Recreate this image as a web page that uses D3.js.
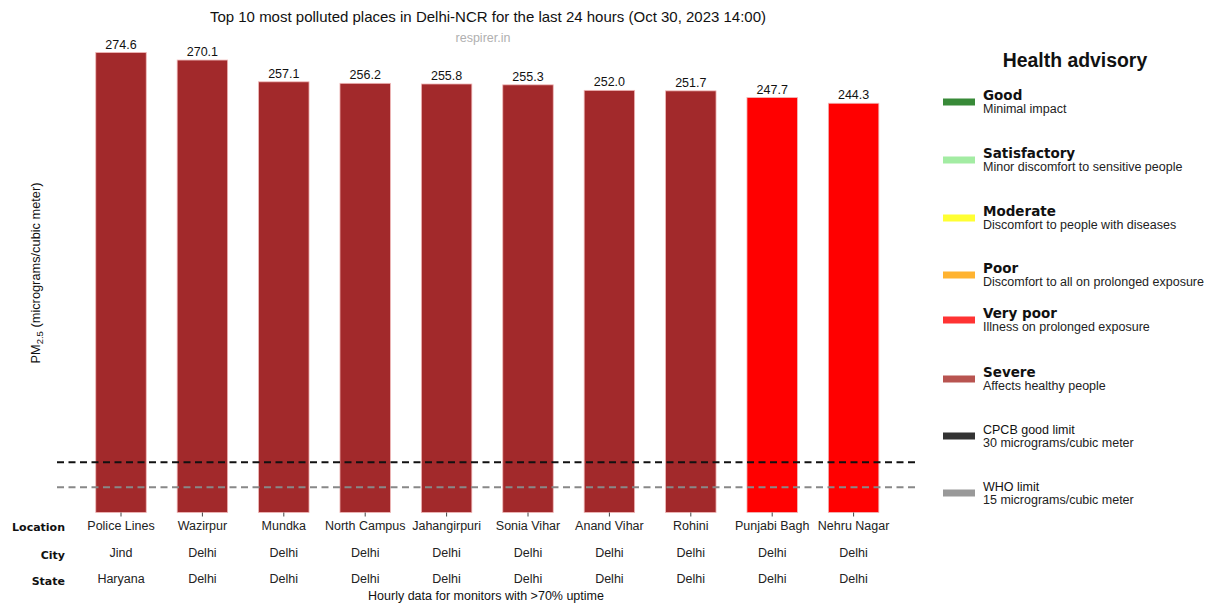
<!DOCTYPE html>
<html><head><meta charset="utf-8">
<script src="https://cdn.jsdelivr.net/npm/d3@7"></script>
<style>body{margin:0;background:#fff}svg{display:block}</style>
</head><body>
<svg id="c" width="1209" height="603"></svg>
<script>
const locations = ["Police Lines","Wazirpur","Mundka","North Campus","Jahangirpuri","Sonia Vihar","Anand Vihar","Rohini","Punjabi Bagh","Nehru Nagar"];
const cities = ["Jind","Delhi","Delhi","Delhi","Delhi","Delhi","Delhi","Delhi","Delhi","Delhi"];
const states = ["Haryana","Delhi","Delhi","Delhi","Delhi","Delhi","Delhi","Delhi","Delhi","Delhi"];
const pm25 = [274.6,270.1,257.1,256.2,255.8,255.3,252.0,251.7,247.7,244.3];
const categoryOf = ["Severe","Severe","Severe","Severe","Severe","Severe","Severe","Severe","Very poor","Very poor"];
const limits = [{name:"CPCB", value:30, color:"#111"},{name:"WHO", value:15, color:"#888"}];
const legendTitles = ["Good","Satisfactory","Moderate","Poor","Very poor","Severe","CPCB good limit","WHO limit"];
const legendDescs = ["Minimal impact","Minor discomfort to sensitive people","Discomfort to people with diseases","Discomfort to all on prolonged exposure","Illness on prolonged exposure","Affects healthy people","30 micrograms/cubic meter","15 micrograms/cubic meter"];
const legendColors = ["#388a38","#a3eca3","#ffff33","#ffb330","#ff3333","#b85450","#333333","#999999"];
const barColors = {"Severe":"#a2292b","Very poor":"#ff0000"};

const svg = d3.select("#c");
const F = "Liberation Sans, Arial, sans-serif";
const FB = "DejaVu Sans, sans-serif";

const x = d3.scaleBand().domain(locations).range([80.3, 894.3]).paddingInner(0.38).paddingOuter(0.19);
const y = d3.scaleLinear().domain([0, 274.6]).range([512.5, 52.5]);

// title
svg.append("text").attr("x",488).attr("y",22).attr("text-anchor","middle")
  .attr("font-family",F).attr("font-size",15).attr("fill","#111")
  .text("Top 10 most polluted places in Delhi-NCR for the last 24 hours (Oct 30, 2023 14:00)");
svg.append("text").attr("x",483).attr("y",42).attr("text-anchor","middle")
  .attr("font-family",F).attr("font-size",12.5).attr("fill","#b0b0b0").text("respirer.in");

// bars
svg.append("g").selectAll("rect").data(pm25).join("rect")
  .attr("x",(d,i)=>x(locations[i])).attr("width",x.bandwidth())
  .attr("y",d=>y(d)).attr("height",d=>y(0)-y(d))
  .attr("fill",(d,i)=>barColors[categoryOf[i]])
  .attr("stroke","#f0b8b8").attr("stroke-width",0.8);

svg.append("g").selectAll("text").data(pm25).join("text")
  .attr("x",(d,i)=>x(locations[i])+x.bandwidth()/2).attr("y",d=>y(d)-4)
  .attr("text-anchor","middle").attr("font-family",F).attr("font-size",12.5).attr("fill","#111")
  .text(d=>d.toFixed(1));

// limit lines
svg.append("g").selectAll("line").data(limits).join("line")
  .attr("x1",57).attr("x2",918).attr("y1",d=>y(d.value)).attr("y2",d=>y(d.value))
  .attr("stroke",d=>d.color).attr("stroke-width",2).attr("stroke-dasharray","7,4.5");

// x axis
const xAxis = d3.axisBottom(x).tickSize(4).tickPadding(5);
const gx = svg.append("g").attr("transform",`translate(0,${y(0)})`).call(xAxis);
gx.select(".domain").remove();
gx.selectAll(".tick line").attr("stroke","#444");
gx.selectAll(".tick text").attr("font-family",F).attr("font-size",12.5).attr("fill","#222");

const rows = [{label:"City", arr:cities, y:557},{label:"State", arr:states, y:583}];
rows.forEach(r=>{
  svg.append("g").selectAll("text").data(r.arr).join("text")
    .attr("x",(d,i)=>x(locations[i])+x.bandwidth()/2).attr("y",r.y)
    .attr("text-anchor","middle").attr("font-family",F).attr("font-size",12.5).attr("fill","#222").text(d=>d);
});
[["Location",531],["City",559],["State",585]].forEach(([t,yy])=>{
  svg.append("text").attr("x",65).attr("y",yy).attr("text-anchor","end")
    .attr("font-family",FB).attr("font-weight","bold").attr("font-size",11).attr("fill","#111").text(t);
});
svg.append("text").attr("x",486).attr("y",600).attr("text-anchor","middle")
  .attr("font-family",F).attr("font-size",12.5).attr("fill","#111").text("Hourly data for monitors with >70% uptime");

// y label
const yl = svg.append("text").attr("transform","translate(40,273) rotate(-90)").attr("text-anchor","middle")
  .attr("font-family",F).attr("font-size",12.8).attr("fill","#111");
yl.append("tspan").text("PM");
yl.append("tspan").attr("font-size",9.5).attr("dy",3).text("2.5");
yl.append("tspan").attr("dy",-3).text(" (micrograms/cubic meter)");

// legend
svg.append("text").attr("x",1075).attr("y",67).attr("text-anchor","middle")
  .attr("font-family",F).attr("font-weight","bold").attr("font-size",19.4).attr("fill","#111").text("Health advisory");
const ly = [102,160,218,275,320,379,436,493];
const lg = svg.append("g").selectAll("g").data(legendTitles).join("g")
  .attr("transform",(d,i)=>`translate(0,${ly[i]})`);
lg.append("rect").attr("x",943).attr("y",-3.5).attr("width",32).attr("height",7).attr("fill",(d,i)=>legendColors[i]);
lg.append("text").attr("x",983).attr("y",-2)
  .attr("font-family",(d,i)=>i<6?FB:F).attr("font-weight",(d,i)=>i<6?"bold":"normal")
  .attr("font-size",(d,i)=>i<6?13.5:12.5).attr("fill","#111").text(d=>d);
lg.append("text").attr("x",983).attr("y",11).attr("font-family",F).attr("font-size",12.5).attr("fill","#222")
  .text((d,i)=>legendDescs[i]);
</script>
</body></html>
